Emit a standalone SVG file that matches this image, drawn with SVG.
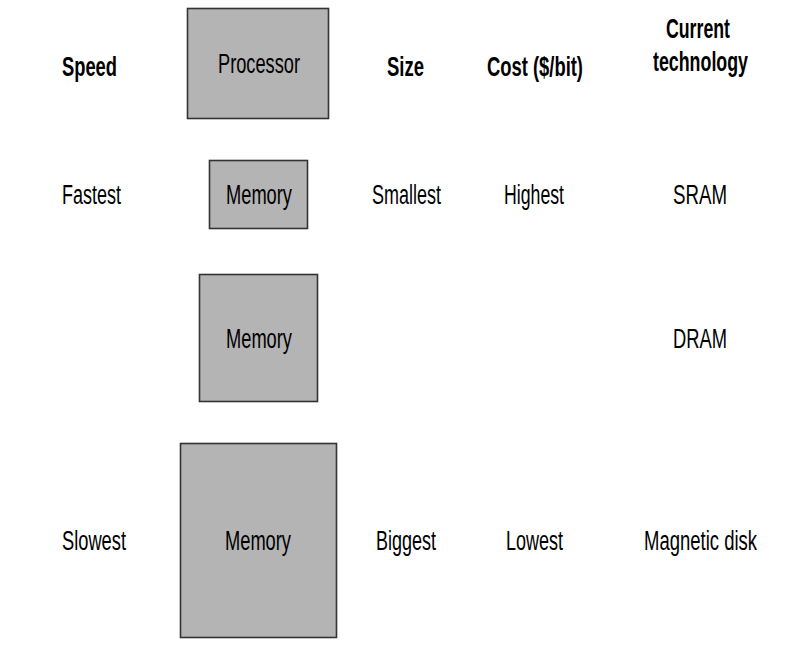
<svg xmlns="http://www.w3.org/2000/svg" width="798" height="646" viewBox="0 0 798 646">
<style>
.box{fill:#b4b4b4;stroke:#333;stroke-width:1.6}
text{font-family:"Liberation Sans",Arial,sans-serif;font-size:27px;fill:#000}
.b{font-weight:bold}
</style>
<rect width="798" height="646" fill="#fff"/>
<g id="headers">
<text class="b" x="62" y="76" textLength="55" lengthAdjust="spacingAndGlyphs">Speed</text>
<text class="b" x="387" y="76" textLength="37" lengthAdjust="spacingAndGlyphs">Size</text>
<text class="b" x="487" y="76" textLength="96" lengthAdjust="spacingAndGlyphs">Cost ($/bit)</text>
<text class="b" x="666" y="38" textLength="64" lengthAdjust="spacingAndGlyphs">Current</text>
<text class="b" x="653" y="71" textLength="95" lengthAdjust="spacingAndGlyphs">technology</text>
</g>
<g id="processor">
<rect class="box" x="187.5" y="8.5" width="141" height="110"/>
<text x="218" y="73" textLength="82" lengthAdjust="spacingAndGlyphs">Processor</text>
</g>
<g id="memory1">
<rect class="box" x="209.5" y="160.5" width="98" height="68"/>
<text x="226" y="204" textLength="66" lengthAdjust="spacingAndGlyphs">Memory</text>
</g>
<g id="memory2">
<rect class="box" x="199.5" y="274.5" width="118" height="127"/>
<text x="226" y="348" textLength="66" lengthAdjust="spacingAndGlyphs">Memory</text>
</g>
<g id="memory3">
<rect class="box" x="180.5" y="443.5" width="156" height="194"/>
<text x="225" y="550" textLength="66" lengthAdjust="spacingAndGlyphs">Memory</text>
</g>
<g id="row1">
<text x="62" y="204" textLength="59" lengthAdjust="spacingAndGlyphs">Fastest</text>
<text x="372" y="204" textLength="69" lengthAdjust="spacingAndGlyphs">Smallest</text>
<text x="504" y="204" textLength="60" lengthAdjust="spacingAndGlyphs">Highest</text>
<text x="673" y="204" textLength="54" lengthAdjust="spacingAndGlyphs">SRAM</text>
</g>
<g id="row2">
<text x="673" y="348" textLength="54" lengthAdjust="spacingAndGlyphs">DRAM</text>
</g>
<g id="row3">
<text x="62" y="550" textLength="64" lengthAdjust="spacingAndGlyphs">Slowest</text>
<text x="376" y="550" textLength="60" lengthAdjust="spacingAndGlyphs">Biggest</text>
<text x="506" y="550" textLength="57" lengthAdjust="spacingAndGlyphs">Lowest</text>
<text x="644" y="550" textLength="113" lengthAdjust="spacingAndGlyphs">Magnetic disk</text>
</g>
<g id="connectors"></g>
</svg>
